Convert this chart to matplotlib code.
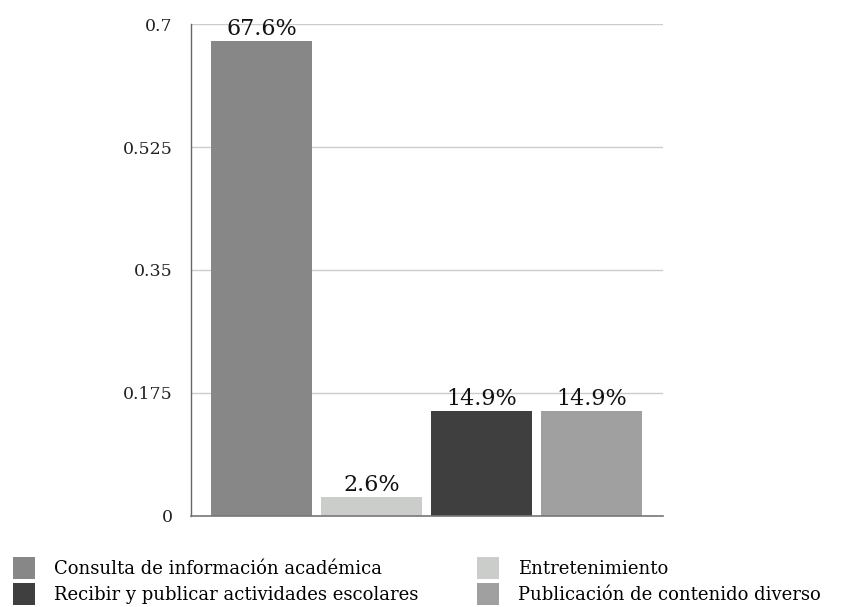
import matplotlib
matplotlib.use("Agg")
import matplotlib.pyplot as plt
from matplotlib.patches import Patch

categories = ["Consulta de información académica", "Entretenimiento",
              "Recibir y publicar actividades escolares", "Publicación de contenido diverso"]
values = [0.676, 0.026, 0.149, 0.149]
labels = ["67.6%", "2.6%", "14.9%", "14.9%"]
colors = ["#878787", "#cbcdcb", "#3f3f3f", "#a0a0a0"]
yticks = [0, 0.175, 0.35, 0.525, 0.7]
ytick_labels = ["0", "0.175", "0.35", "0.525", "0.7"]

plt.rcParams['font.family'] = ['DejaVu Serif']
W, H = 843, 607
fig = plt.figure(figsize=(W/100, H/100), dpi=100)
x0, x1, ytop, ybot = 191, 663, 24.3, 515.7
ax = fig.add_axes([x0/W, 1-ybot/H, (x1-x0)/W, (ybot-ytop)/H])

pos = list(range(len(values)))
bars = ax.bar(pos, values, width=0.918, color=colors, zorder=2)
for p, v, l in zip(pos, values, labels):
    ax.text(p, v + 0.002, l, ha='center', va='bottom', fontsize=16, color='#111111', zorder=3)

ax.set_xlim(-0.641, 3.649)
ax.set_ylim(0, 0.7)
ax.set_yticks(yticks)
ax.set_yticklabels(ytick_labels, fontsize=12.5, color='#222222')
ax.set_xticks([])
ax.tick_params(axis='y', length=0, pad=13)
ax.grid(axis='y', color='#cccccc', linewidth=1, zorder=0)
for s in ['top', 'right']:
    ax.spines[s].set_visible(False)
ax.spines['left'].set_color('#666666')
ax.spines['bottom'].set_color('#777777')
ax.spines['left'].set_linewidth(1)
ax.spines['bottom'].set_linewidth(1.2)

order = [0, 2, 1, 3]
handles = [Patch(facecolor=colors[i], edgecolor='none') for i in order]
fs = 13
px = fs * 100 / 72
fig.legend(handles, [categories[i] for i in order], ncol=2, loc='lower left',
           bbox_to_anchor=(13/W, (H-605)/H), frameon=False, fontsize=fs,
           handlelength=22/px, handleheight=1.5, handletextpad=19/px,
           labelspacing=4/px, columnspacing=59/px, borderpad=0, borderaxespad=0)

fig.savefig("out.png", dpi=100)
